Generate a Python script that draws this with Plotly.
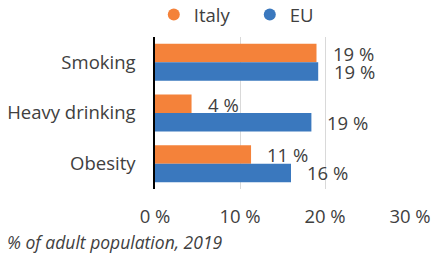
import plotly.graph_objects as go

categories = ["Smoking", "Heavy drinking", "Obesity"]
italy = [19.0, 4.3, 11.3]
eu = [19.2, 18.4, 16.0]
italy_labels = ["19 %", "4 %", "11 %"]
eu_labels = ["19 %", "19 %", "16 %"]
x_ticks = [0, 10, 20, 30]
x_tick_labels = ["0 %", "10 %", "20 %", "30 %"]
footnote = "% of adult population, 2019"

ORANGE = "#F4823A"
BLUE = "#3A78BE"
TEXT = "#404040"
FONT = "Open Sans"
FS = 18.5

fig = go.Figure()
fig.add_trace(go.Bar(y=categories, x=italy, orientation="h", name="Italy",
                     marker=dict(color=ORANGE, line=dict(width=0)), showlegend=False))
fig.add_trace(go.Bar(y=categories, x=eu, orientation="h", name="EU",
                     marker=dict(color=BLUE, line=dict(width=0)), showlegend=False))
# legend entries with circle markers
fig.add_trace(go.Scatter(x=[None], y=[None], mode="markers", name="Italy",
                         marker=dict(symbol="circle", size=12, color=ORANGE)))
fig.add_trace(go.Scatter(x=[None], y=[None], mode="markers", name="EU",
                         marker=dict(symbol="circle", size=12, color=BLUE)))

annotations = []
for cat, v, lab in zip(categories, italy, italy_labels):
    annotations.append(dict(x=v, y=cat, text=lab, showarrow=False, xanchor="left",
                            yanchor="middle", xshift=14, yshift=9,
                            font=dict(family=FONT, size=FS, color=TEXT)))
for cat, v, lab in zip(categories, eu, eu_labels):
    annotations.append(dict(x=v, y=cat, text=lab, showarrow=False, xanchor="left",
                            yanchor="middle", xshift=14, yshift=-9,
                            font=dict(family=FONT, size=FS, color=TEXT)))
annotations.append(dict(xref="paper", yref="paper", x=-0.59, y=-0.35, text="<i>" + footnote + "</i>",
                        showarrow=False, xanchor="left", yanchor="middle",
                        font=dict(family=FONT, size=17.5, color=TEXT)))

fig.update_layout(
    width=432, height=255,
    margin=dict(l=154.5, r=21.5, t=37, b=66, pad=0, autoexpand=False),
    paper_bgcolor="white", plot_bgcolor="white",
    barmode="group", bargap=0.27, bargroupgap=0,
    font=dict(family=FONT, size=FS, color=TEXT),
    showlegend=True,
    legend=dict(orientation="h", x=0.356, xanchor="left", y=1.27, yanchor="top",
                xref="container", yref="paper", font=dict(family=FONT, size=FS, color=TEXT),
                itemwidth=30, entrywidth=51, bgcolor="rgba(0,0,0,0)"),
    xaxis=dict(range=[0, 30], tickvals=x_ticks, ticktext=x_tick_labels,
               showgrid=True, gridcolor="#D9D9D9", gridwidth=1, zeroline=False,
               showline=False, ticks="", ticklabelstandoff=14, automargin=False,
               tickfont=dict(family=FONT, size=FS, color=TEXT), fixedrange=True),
    yaxis=dict(autorange="reversed", showline=True, linecolor="black", linewidth=1.5,
               ticks="", ticklabelstandoff=14, showgrid=False, automargin=False,
               tickfont=dict(family=FONT, size=FS, color=TEXT), fixedrange=True),
    annotations=annotations,
)

fig.write_html("out.html", config={"displayModeBar": False},
               post_script="document.body.style.margin='0';document.body.style.overflow='hidden';")
